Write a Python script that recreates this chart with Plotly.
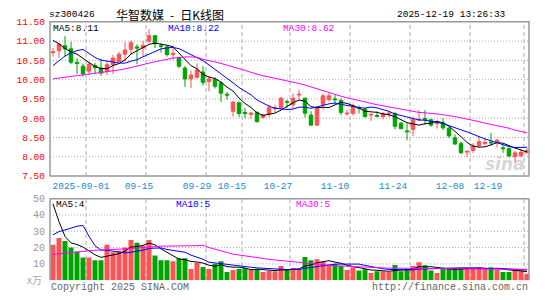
import plotly.graph_objects as go
import pandas as pd

# ---------------- data ----------------
opens = [10.70, 10.75, 10.88, 10.80, 10.45, 10.35, 10.22, 10.37, 10.30, 10.21,
         10.39, 10.47, 10.66, 10.79, 10.85, 10.82, 11.00, 11.14, 10.88, 10.85,
         10.65, 10.57, 10.30, 10.02, 10.06, 10.20, 9.95, 10.00, 9.92, 9.62,
         9.18, 9.40, 9.15, 9.10, 9.15, 9.02, 9.10, 9.25, 9.27, 9.43,
         9.35, 9.60, 9.52, 9.08, 8.82, 9.35, 9.48, 9.50, 9.46, 9.11,
         9.12, 9.28, 9.24, 9.08, 9.07, 9.04, 9.11, 9.12, 8.87, 8.67,
         8.71, 8.95, 8.99, 8.96, 8.86, 8.88, 8.74, 8.49, 8.34, 8.12,
         8.16, 8.29, 8.34, 8.38, 8.37, 8.23, 8.21, 8.00, 8.02, 8.10]
highs = [10.82, 10.95, 11.13, 10.98, 10.55, 10.42, 10.47, 10.43, 10.55, 10.51,
         10.64, 10.72, 10.98, 11.02, 10.92, 11.00, 11.31, 11.16, 10.95, 10.90,
         10.89, 10.60, 10.36, 10.24, 10.42, 10.35, 10.10, 10.06, 9.95, 9.68,
         9.45, 9.43, 9.27, 9.16, 9.18, 9.12, 9.35, 9.35, 9.55, 9.48,
         9.64, 9.74, 9.53, 9.18, 9.30, 9.64, 9.67, 9.60, 9.52, 9.22,
         9.38, 9.33, 9.26, 9.12, 9.18, 9.16, 9.18, 9.16, 8.90, 8.87,
         9.04, 9.21, 9.21, 8.98, 8.94, 9.00, 8.77, 8.58, 8.40, 8.16,
         8.35, 8.52, 8.48, 8.62, 8.46, 8.30, 8.24, 8.16, 8.20, 8.22]
lows = [10.60, 10.56, 10.60, 10.40, 10.15, 10.08, 10.12, 10.14, 10.10, 10.12,
        10.15, 10.46, 10.48, 10.65, 10.40, 10.60, 10.95, 10.82, 10.70, 10.60,
        10.52, 10.30, 9.81, 9.78, 10.03, 9.85, 9.70, 9.77, 9.42, 9.48,
        9.04, 9.03, 9.00, 8.98, 8.89, 8.99, 9.02, 9.15, 9.23, 9.27,
        9.23, 9.48, 9.02, 8.81, 8.80, 9.23, 9.43, 9.37, 9.08, 9.07,
        9.07, 9.12, 9.02, 8.93, 9.02, 8.97, 9.02, 8.71, 8.71, 8.43,
        8.54, 8.93, 8.83, 8.78, 8.73, 8.69, 8.48, 8.31, 8.08, 7.99,
        8.10, 8.24, 8.29, 8.29, 8.24, 8.10, 7.98, 7.83, 7.99, 8.10]
closes = [10.72, 10.92, 10.80, 10.45, 10.42, 10.15, 10.40, 10.31, 10.17, 10.39,
          10.56, 10.66, 10.77, 10.96, 10.82, 10.89, 11.14, 10.93, 10.86, 10.65,
          10.68, 10.35, 10.02, 10.12, 10.25, 9.93, 10.02, 9.83, 9.65, 9.60,
          9.42, 9.12, 9.12, 9.13, 8.91, 9.08, 9.27, 9.27, 9.52, 9.42,
          9.52, 9.62, 9.13, 8.82, 9.27, 9.58, 9.58, 9.48, 9.15, 9.13,
          9.32, 9.25, 9.04, 9.10, 9.05, 9.12, 9.13, 8.79, 8.73, 8.65,
          8.96, 8.97, 8.97, 8.82, 8.88, 8.75, 8.54, 8.33, 8.10, 8.14,
          8.28, 8.39, 8.37, 8.36, 8.43, 8.21, 8.02, 8.10, 8.12, 8.16]
volumes = [21.7, 25.8, 24.1, 20.1, 17.6, 14.0, 14.0, 12.2, 12.2, 21.7,
           17.2, 18.1, 20.1, 24.7, 22.9, 21.1, 24.7, 15.2, 12.2, 12.2,
           11.6, 13.4, 13.4, 6.9, 10.7, 8.1, 6.9, 10.1, 11.6, 5.1,
           6.3, 6.9, 7.5, 6.3, 6.9, 5.1, 5.7, 5.5, 8.7, 6.3,
           7.5, 6.7, 14.2, 12.2, 12.8, 11.4, 9.3, 9.9, 8.7, 6.3,
           7.9, 5.9, 6.7, 4.5, 5.5, 5.5, 5.1, 9.3, 5.5, 6.7,
           8.7, 11.0, 9.1, 5.9, 4.5, 7.5, 7.5, 7.5, 7.5, 7.1,
           7.1, 7.9, 7.1, 7.9, 6.3, 5.1, 5.1, 6.3, 5.9, 3.9]
# sessions just before the window (estimated from where the MA lines start)
prior_closes = [9.62, 9.60, 9.65, 9.82, 9.85, 11.37, 11.40, 10.90, 10.71]
prior_volumes = [5.8, 14.1, 10.1, 5.0, 9.0, 80.8, 69.0, 40.0, 22.6]
# 30-day averages
ma30_price = [10.02, 10.04, 10.06, 10.08, 10.10, 10.12, 10.14, 10.16, 10.18, 10.20,
              10.22, 10.25, 10.28, 10.31, 10.35, 10.39, 10.43, 10.47, 10.50, 10.53,
              10.56, 10.58, 10.59, 10.59, 10.58, 10.53, 10.50, 10.46, 10.42, 10.38,
              10.33, 10.29, 10.24, 10.19, 10.14, 10.10, 10.07, 10.04, 10.01, 9.98,
              9.95, 9.90, 9.86, 9.81, 9.76, 9.72, 9.67, 9.62, 9.57, 9.53,
              9.49, 9.45, 9.41, 9.38, 9.35, 9.32, 9.29, 9.26, 9.23, 9.20,
              9.17, 9.15, 9.14, 9.13, 9.11, 9.09, 9.07, 9.04, 9.01, 8.98,
              8.95, 8.91, 8.87, 8.84, 8.81, 8.78, 8.74, 8.69, 8.65, 8.62]
ma30_volume = [15.8, 16.2, 16.6, 17.2, 17.6, 18.0, 18.2, 18.4, 18.5, 18.6,
               18.8, 19.0, 19.2, 19.5, 19.8, 20.2, 20.5, 20.8, 20.9, 20.9,
               20.9, 20.9, 20.9, 20.9, 21.2, 21.5, 20.0, 19.0, 17.8, 17.0,
               16.0, 15.4, 14.8, 14.2, 13.8, 13.2, 12.8, 12.4, 12.0, 11.6,
               11.2, 10.9, 10.6, 10.3, 10.0, 9.5, 9.2, 8.9, 8.7, 8.4,
               8.2, 8.0, 7.8, 7.6, 7.5, 7.5, 7.4, 7.4, 7.3, 7.3,
               7.2, 7.2, 7.2, 7.1, 7.1, 7.1, 7.1, 7.1, 7.1, 7.1,
               7.1, 7.0, 7.0, 7.0, 6.9, 6.9, 6.8, 6.7, 6.7, 6.7]
tick_labels = ["2025-09-01", "09-15", "09-29", "10-15", "10-27",
               "11-10", "11-24", "12-08", "12-19"]
tick_index = [6, 16, 26, 32, 40, 50, 60, 70, 79]
price_ticks = [7.5, 8.0, 8.5, 9.0, 9.5, 10.0, 10.5, 11.0, 11.5]
volume_ticks = [10, 20, 30, 40, 50]

# ---------------- styling / layout ----------------
W, H = 545, 300
PX_L, PX_R = 50, 529
PRICE_TOP, PRICE_BOT = 17.5, 177.5
VOL_TOP, VOL_BOT = 201, 285.7
RED, GREEN = "#ff5252", "#00a400"
MONO = "Liberation Mono, DejaVu Sans Mono, monospace"
CJK = "Noto Sans CJK SC, sans-serif"
label_shift_px = [-5, -7, -9, -10, -12, -15, -17, -20, -36]

n = len(closes)
xs = list(range(n))
xr = [-0.5, -0.5 + (PX_R - PX_L) / 6.0]

cl_all = pd.Series(prior_closes + closes)
ma5 = cl_all.rolling(5).mean().iloc[len(prior_closes):].tolist()
ma10 = cl_all.rolling(10).mean().iloc[len(prior_closes):].tolist()
v_all = pd.Series(prior_volumes + volumes)
vma5 = v_all.rolling(5).mean().iloc[len(prior_volumes):].tolist()
vma10 = v_all.rolling(10).mean().iloc[len(prior_volumes):].tolist()

bar_colors = [RED if c >= o else GREEN for o, c in zip(opens, closes)]

fig = go.Figure()
fig.add_trace(go.Candlestick(
    x=xs, open=opens, high=highs, low=lows, close=closes,
    increasing=dict(line=dict(color=RED, width=1), fillcolor=RED),
    decreasing=dict(line=dict(color=GREEN, width=1), fillcolor=GREEN),
    whiskerwidth=0, xaxis="x", yaxis="y", showlegend=False))
for ys, col in [(ma5, "#000000"), (ma10, "#0000ff"), (ma30_price, "#ff00ff")]:
    fig.add_trace(go.Scatter(x=xs, y=ys, mode="lines", line=dict(color=col, width=1),
                             xaxis="x", yaxis="y", showlegend=False))

fig.add_trace(go.Bar(x=xs, y=volumes, marker=dict(color=bar_colors, line=dict(width=0)),
                     width=0.83, xaxis="x2", yaxis="y2", showlegend=False))
for ys, col in [(vma5, "#000000"), (vma10, "#0000ff"), (ma30_volume, "#ff00ff")]:
    fig.add_trace(go.Scatter(x=xs, y=ys, mode="lines", line=dict(color=col, width=1),
                             xaxis="x2", yaxis="y2", showlegend=False))

xdom = [PX_L / W, PX_R / W]
pdom = [1 - PRICE_BOT / H, 1 - PRICE_TOP / H]
vdom = [1 - VOL_BOT / H, 1 - VOL_TOP / H]

tickvals = [i - 0.5 + s / 6.0 for i, s in zip(tick_index, label_shift_px)]

fig.update_layout(
    width=W, height=H, margin=dict(l=0, r=0, t=0, b=0),
    paper_bgcolor="white", plot_bgcolor="white", boxgap=0.17,
    xaxis=dict(domain=xdom, range=xr, anchor="y", showgrid=False, zeroline=False,
               showline=False, tickvals=tickvals, ticktext=tick_labels, ticks="",
               tickfont=dict(family=MONO, size=9.5, color="#1a8ad4"),
               ticklabelstandoff=3, rangeslider=dict(visible=False)),
    yaxis=dict(domain=pdom, range=[7.5, 11.5], anchor="x", showgrid=False, zeroline=False,
               showline=False, tickvals=price_ticks,
               ticktext=[f"{v:.2f}" for v in price_ticks], ticks="",
               tickfont=dict(family=MONO, size=9.5, color="#ff0000"),
               ticklabelstandoff=4),
    xaxis2=dict(domain=xdom, range=xr, anchor="y2", showgrid=False, zeroline=False,
                showline=False, showticklabels=False, ticks=""),
    yaxis2=dict(domain=vdom, range=[0, 50], anchor="x2", showgrid=False, zeroline=False,
                showline=False, tickvals=volume_ticks,
                ticktext=[str(v) for v in volume_ticks], ticks="",
                tickfont=dict(family=MONO, size=10, color="#999999"),
                ticklabelstandoff=4),
)

shapes = []
GRID = "#aaaaaa"
for idx in tick_index:
    shapes.append(dict(type="line", xref="x", yref="y domain", x0=idx - 0.5, x1=idx - 0.5,
                       y0=0, y1=1, line=dict(color=GRID, width=1, dash="4px,3px"), layer="below"))
    shapes.append(dict(type="line", xref="x2", yref="y2 domain", x0=idx - 0.5, x1=idx - 0.5,
                       y0=0, y1=1, line=dict(color=GRID, width=1, dash="4px,3px"), layer="below"))
for v in price_ticks[1:-1]:
    shapes.append(dict(type="line", xref="x domain", yref="y", x0=0, x1=1, y0=v, y1=v,
                       line=dict(color=GRID, width=1, dash="1px,2px"), layer="below"))
for v in volume_ticks[:-1]:
    shapes.append(dict(type="line", xref="x2 domain", yref="y2", x0=0, x1=1, y0=v, y1=v,
                       line=dict(color=GRID, width=1, dash="1px,2px"), layer="below"))
FRAME = "#999999"
shapes.append(dict(type="rect", xref="paper", yref="paper", x0=xdom[0], x1=xdom[1],
                   y0=pdom[0], y1=pdom[1], line=dict(color=FRAME, width=1.5)))
for (x0, y0, x1, y1) in [(xdom[0], vdom[1], xdom[1], vdom[1]),
                         (xdom[0], vdom[0], xdom[0], vdom[1]),
                         (xdom[1], vdom[0], xdom[1], vdom[1])]:
    shapes.append(dict(type="line", xref="paper", yref="paper", x0=x0, x1=x1, y0=y0, y1=y1,
                       line=dict(color=FRAME, width=1.5)))
fig.update_layout(shapes=shapes)


def ann(text, xpx, ypx, anchor="left", color="#000", size=9.5, family=MONO, **kw):
    return dict(text=text, x=xpx / W, y=1 - ypx / H, xref="paper", yref="paper",
                xanchor=anchor, yanchor="middle", showarrow=False,
                font=dict(family=family, size=size, color=color), **kw)


ENSP = "\u2002"
annotations = [
    ann("sz300426", 47, 10),
    ann("华智数媒" + ENSP + "-" + ENSP + "日K线图", 114, 10, size=12, family=CJK),
    ann("2025-12-19 13:26:33", 508, 10, anchor="right"),
    ann("MA5:8.11", 51, 24),
    ann("MA10:8.22", 166, 24, color="#0000ff"),
    ann("MA30:8.62", 281, 24, color="#ff00ff"),
    ann("MA5:4", 54, 207),
    ann("MA10:5", 174, 207, color="#0000ff"),
    ann("MA30:5", 294, 207, color="#ff00ff"),
    ann("x万", 44, 285, anchor="right", color="#aaaaaa", size=10, family=CJK),
    ann("Copyright 2025 SINA.COM", 49, 293, color="#666666", size=10),
    ann("http://finance.sina.com.cn", 530, 293, anchor="right", color="#666666", size=10),
    ann("<b><i>sina</i></b>", 527, 165, anchor="right", color="rgba(150,150,150,0.4)",
        size=17, family="DejaVu Sans, sans-serif"),
]
fig.update_layout(annotations=annotations)

fig.write_html("out.html")
